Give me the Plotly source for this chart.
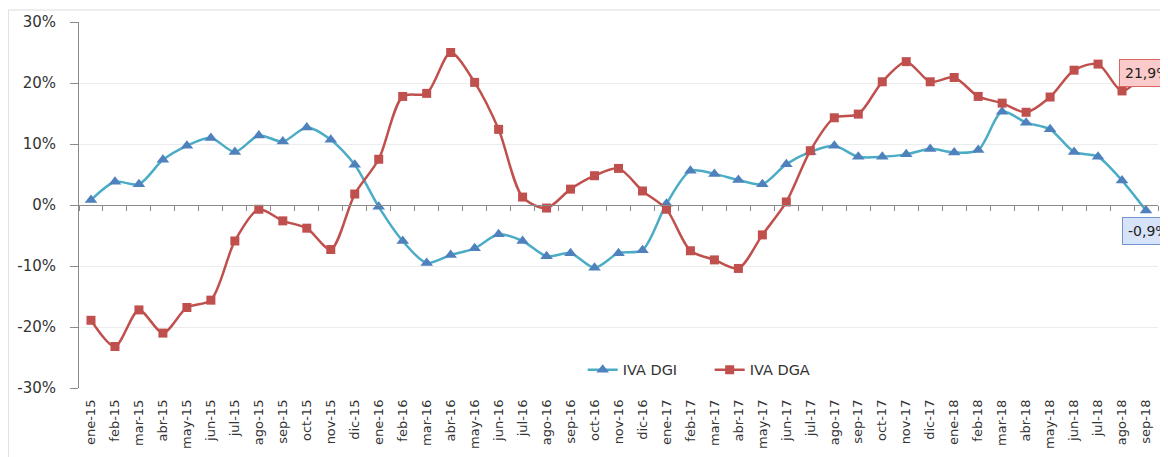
import plotly.graph_objects as go

months = ["ene-15","feb-15","mar-15","abr-15","may-15","jun-15","jul-15","ago-15","sep-15","oct-15","nov-15","dic-15",
          "ene-16","feb-16","mar-16","abr-16","may-16","jun-16","jul-16","ago-16","sep-16","oct-16","nov-16","dic-16",
          "ene-17","feb-17","mar-17","abr-17","may-17","jun-17","jul-17","ago-17","sep-17","oct-17","nov-17","dic-17",
          "ene-18","feb-18","mar-18","abr-18","may-18","jun-18","jul-18","ago-18","sep-18"]

iva_dgi = [0.8, 3.8, 3.4, 7.4, 9.7, 11.0, 8.7, 11.4, 10.4, 12.7, 10.7, 6.6,
           -0.3, -5.9, -9.5, -8.2, -7.1, -4.8, -5.9, -8.4, -7.9, -10.3, -7.9, -7.4,
           0.2, 5.6, 5.1, 4.1, 3.4, 6.7, 8.7, 9.7, 7.9, 7.9, 8.3, 9.2,
           8.6, 9.0, 15.3, 13.5, 12.4, 8.7, 7.9, 4.0, -0.9]

iva_dga = [-18.9, -23.2, -17.2, -21.0, -16.8, -15.6, -5.9, -0.7, -2.6, -3.8, -7.3, 1.8,
           7.5, 17.8, 18.3, 25.0, 20.1, 12.4, 1.3, -0.5, 2.6, 4.8, 6.0, 2.3,
           -0.7, -7.5, -9.0, -10.4, -4.9, 0.5, 8.9, 14.3, 14.9, 20.2, 23.5, 20.2,
           20.9, 17.8, 16.7, 15.2, 17.7, 22.1, 23.1, 18.7, 21.9]

y_ticks = [-30, -20, -10, 0, 10, 20, 30]
y_labels = ["-30%", "-20%", "-10%", "0%", "10%", "20%", "30%"]

FONT = "DejaVu Sans"
TXT = "#333333"
AX = "#8a8a8a"
xr = [-0.5, len(months) - 0.5]

fig = go.Figure()

fig.add_trace(go.Scatter(
    x=months, y=iva_dgi, name="IVA DGI", mode="lines+markers",
    line=dict(color="#4bacc6", width=2.5, shape="spline", smoothing=0.8),
    marker=dict(symbol="triangle-up", size=11, color="#4f81bd"),
))
fig.add_trace(go.Scatter(
    x=months, y=iva_dga, name="IVA DGA", mode="lines+markers",
    line=dict(color="#c0504d", width=2.5, shape="spline", smoothing=0.8),
    marker=dict(symbol="square", size=9, color="#c0504d"),
))
# helper trace for the zero-crossing category axis
fig.add_trace(go.Scatter(
    x=months, y=[None] * len(months), xaxis="x2", showlegend=False,
    hoverinfo="skip", mode="lines",
))

# page body adds an 8px offset, so the figure is sized/margined to compensate
fig.update_layout(
    width=1160, height=449,
    margin=dict(l=71, r=10, t=14, b=69, autoexpand=False),
    paper_bgcolor="white", plot_bgcolor="white",
    font=dict(family=FONT, size=13, color=TXT),
    xaxis=dict(
        type="category", categoryorder="array", categoryarray=months,
        range=xr, autorange=False, automargin=False,
        showgrid=False, showline=False, ticks="", tickangle=-90,
        tickfont=dict(family=FONT, size=13, color=TXT),
        ticklabelstandoff=8, zeroline=False,
    ),
    xaxis2=dict(
        type="category", categoryorder="array", categoryarray=months,
        range=xr, autorange=False, automargin=False,
        overlaying="x", anchor="free", position=0.5, side="bottom",
        showgrid=False, showline=True, linecolor=AX, linewidth=1,
        ticks="outside", ticklen=5, tickcolor=AX, tickson="boundaries",
        showticklabels=False, zeroline=False,
    ),
    yaxis=dict(
        range=[-30, 30], autorange=False, tickmode="array", automargin=False,
        tickvals=y_ticks, ticktext=y_labels,
        showgrid=True, gridcolor="#ececec", gridwidth=1,
        showline=True, linecolor=AX, linewidth=1,
        ticks="outside", ticklen=8, tickcolor=AX,
        zeroline=False, tickfont=dict(family=FONT, size=15, color=TXT),
        ticklabelstandoff=11,
    ),
    legend=dict(
        orientation="h", x=0.4668, y=0.05, xanchor="left", yanchor="middle",
        entrywidth=82, entrywidthmode="pixels",
        bgcolor="rgba(0,0,0,0)", font=dict(family=FONT, size=14.5, color=TXT),
    ),
    showlegend=True,
)

fig.add_shape(type="rect", xref="paper", yref="paper",
              x0=-0.0655, x1=1.2, y0=-0.5, y1=1.0328,
              line=dict(color="#dcdcdc", width=1), fillcolor="rgba(0,0,0,0)", layer="below")

fig.add_annotation(x="ago-18", y=21.7, xref="x", yref="y", text="21,9%",
                   showarrow=False, xanchor="left", yanchor="middle", xshift=-3,
                   bgcolor="#fbcaca", bordercolor="#d9675f", borderwidth=1, borderpad=5,
                   font=dict(family=FONT, size=14, color="#222222"))
fig.add_annotation(x="ago-18", y=-4.3, xref="x", yref="y", text="-0,9%",
                   showarrow=False, xanchor="left", yanchor="middle", xshift=0,
                   bgcolor="#d6e3f8", bordercolor="#6f94d0", borderwidth=1, borderpad=5,
                   font=dict(family=FONT, size=14, color="#222222"))

fig.write_html("out.html")
